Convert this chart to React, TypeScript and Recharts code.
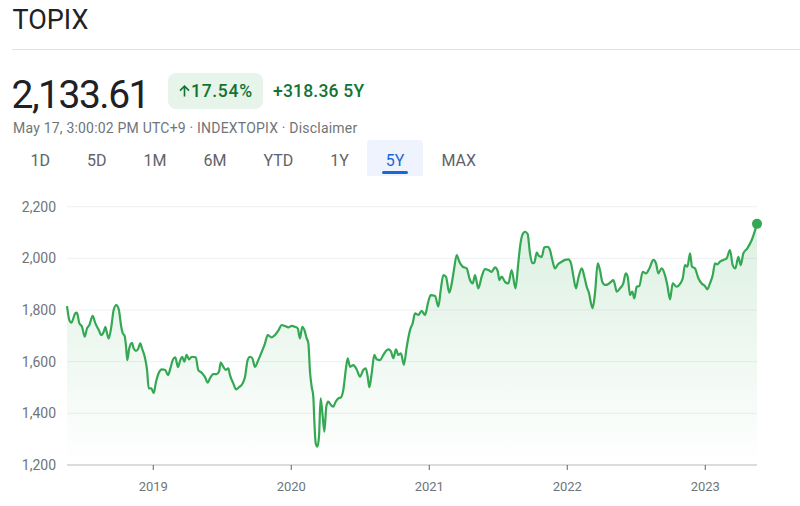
import { ComposedChart, Area, XAxis, YAxis, CartesianGrid, ReferenceDot } from 'recharts'

// time axis in fractional years
const years = [
  2018.375, 2018.392, 2018.406, 2018.435, 2018.447, 2018.464, 2018.484, 2018.503, 2018.52, 2018.537,
  2018.561, 2018.58, 2018.605, 2018.624, 2018.641, 2018.653, 2018.665, 2018.677, 2018.696, 2018.713,
  2018.732, 2018.75, 2018.768, 2018.779, 2018.793, 2018.803, 2018.812, 2018.826, 2018.846, 2018.858,
  2018.875, 2018.889, 2018.906, 2018.918, 2018.938, 2018.955, 2018.967, 2018.986, 2019.003, 2019.02,
  2019.039, 2019.063, 2019.087, 2019.107, 2019.124, 2019.141, 2019.16, 2019.179, 2019.196, 2019.21,
  2019.225, 2019.242, 2019.259, 2019.279, 2019.308, 2019.326, 2019.351, 2019.375, 2019.395, 2019.411,
  2019.435, 2019.46, 2019.476, 2019.489, 2019.508, 2019.525, 2019.544, 2019.556, 2019.58, 2019.6,
  2019.621, 2019.648, 2019.665, 2019.684, 2019.701, 2019.718, 2019.737, 2019.761, 2019.786, 2019.81,
  2019.829, 2019.858, 2019.882, 2019.906, 2019.931, 2019.955, 2019.979, 2020.003, 2020.027, 2020.047,
  2020.063, 2020.08, 2020.095, 2020.112, 2020.124, 2020.136, 2020.148, 2020.16, 2020.167, 2020.177,
  2020.189, 2020.201, 2020.213, 2020.228, 2020.24, 2020.254, 2020.268, 2020.288, 2020.305, 2020.322,
  2020.341, 2020.36, 2020.377, 2020.395, 2020.409, 2020.426, 2020.45, 2020.474, 2020.498, 2020.522,
  2020.54, 2020.554, 2020.566, 2020.583, 2020.602, 2020.619, 2020.643, 2020.667, 2020.692, 2020.708,
  2020.723, 2020.74, 2020.759, 2020.776, 2020.795, 2020.816, 2020.837, 2020.861, 2020.88, 2020.897,
  2020.921, 2020.945, 2020.969, 2020.993, 2021.011, 2021.042, 2021.066, 2021.083, 2021.102, 2021.121,
  2021.145, 2021.163, 2021.179, 2021.199, 2021.218, 2021.242, 2021.271, 2021.295, 2021.315, 2021.332,
  2021.355, 2021.38, 2021.404, 2021.428, 2021.453, 2021.476, 2021.496, 2021.508, 2021.525, 2021.549,
  2021.573, 2021.597, 2021.625, 2021.645, 2021.658, 2021.674, 2021.694, 2021.713, 2021.73, 2021.747,
  2021.761, 2021.779, 2021.795, 2021.815, 2021.834, 2021.858, 2021.875, 2021.892, 2021.911, 2021.935,
  2021.96, 2021.984, 2022.008, 2022.027, 2022.044, 2022.063, 2022.08, 2022.105, 2022.124, 2022.141,
  2022.158, 2022.172, 2022.184, 2022.201, 2022.221, 2022.237, 2022.254, 2022.274, 2022.298, 2022.317,
  2022.334, 2022.346, 2022.358, 2022.382, 2022.406, 2022.424, 2022.438, 2022.455, 2022.471, 2022.486,
  2022.503, 2022.522, 2022.547, 2022.571, 2022.595, 2022.624, 2022.643, 2022.66, 2022.684, 2022.708,
  2022.725, 2022.745, 2022.764, 2022.793, 2022.817, 2022.837, 2022.853, 2022.87, 2022.89, 2022.904,
  2022.926, 2022.95, 2022.974, 2022.998, 2023.015, 2023.034, 2023.054, 2023.071, 2023.087, 2023.107,
  2023.131, 2023.155, 2023.179, 2023.199, 2023.218, 2023.24, 2023.257, 2023.276, 2023.305, 2023.337,
  2023.375
]

const closes = [
  1815.25, 1761, 1751, 1787, 1790, 1749, 1735, 1697, 1729, 1742,
  1777, 1749, 1723, 1703, 1716, 1735, 1710, 1690, 1735, 1800,
  1819, 1803, 1735, 1710, 1699, 1658, 1606, 1652, 1673, 1652,
  1642, 1648, 1671, 1652, 1619, 1568, 1497, 1497, 1478, 1522,
  1555, 1570, 1568, 1548, 1574, 1606, 1617, 1579, 1606, 1619,
  1600, 1626, 1609, 1619, 1617, 1568, 1557, 1540, 1519, 1536,
  1552, 1552, 1561, 1596, 1580, 1568, 1574, 1548, 1516, 1493,
  1501, 1516, 1542, 1606, 1619, 1613, 1580, 1606, 1638, 1671,
  1703, 1694, 1703, 1720, 1742, 1738, 1733, 1739, 1735, 1729,
  1690, 1735, 1723, 1690, 1671, 1560, 1503, 1464, 1374, 1284,
  1271, 1310, 1458, 1387, 1329, 1426, 1445, 1432, 1426, 1445,
  1458, 1462, 1490, 1568, 1613, 1580, 1587, 1570, 1542, 1568,
  1574, 1542, 1501, 1555, 1626, 1609, 1606, 1626, 1645, 1648,
  1639, 1613, 1648, 1626, 1632, 1588, 1658, 1723, 1749, 1787,
  1781, 1797, 1781, 1832, 1858, 1854, 1813, 1877, 1935, 1929,
  1867, 1903, 1955, 2013, 1987, 1968, 1961, 1916, 1903, 1935,
  1884, 1929, 1958, 1955, 1948, 1965, 1951, 1916, 1929, 1909,
  1903, 1955, 1884, 1981, 2045, 2090, 2103, 2094, 2019, 1981,
  1983, 2022, 2009, 2006, 2043, 2045, 2032, 1994, 1961, 1978,
  1987, 1994, 1996, 1981, 1932, 1884, 1923, 1961, 1929, 1890,
  1865, 1826, 1807, 1865, 1981, 1955, 1909, 1897, 1901, 1909,
  1916, 1897, 1871, 1884, 1903, 1942, 1929, 1858, 1871, 1845,
  1890, 1893, 1948, 1942, 1961, 1994, 1981, 1942, 1961, 1935,
  1897, 1841, 1903, 1890, 1901, 1923, 1974, 1968, 2019, 1968,
  1961, 1923, 1903, 1893, 1880, 1903, 1935, 1981, 1977, 1987,
  1994, 2000, 2032, 1974, 1961, 2006, 1974, 2019, 2039, 2071,
  2133.61
]

const yearTicks = [2019, 2020, 2021, 2022, 2023]
const priceTicks = [1200, 1400, 1600, 1800, 2000, 2200]
const ranges = ['1D', '5D', '1M', '6M', 'YTD', '1Y', '5Y', 'MAX']
const selectedRange = '5Y'

const GREEN = '#34a853'
const TEXT_GREEN = '#137333'
const GREY = '#70757a'

const data = years.map((t, i) => ({ t, close: closes[i] }))

function RangeTabs() {
  return (
    <div style={{ position: 'absolute', left: 12, top: 140, display: 'flex' }}>
      {ranges.map((r) => {
        const active = r === selectedRange
        return (
          <div
            key={r}
            style={{
              position: 'relative',
              height: 36,
              boxSizing: 'border-box',
              padding: '13px 18.5px 0',
              fontSize: 16,
              lineHeight: '16px',
              color: active ? '#1967d2' : '#5f6368',
              background: active ? '#eef3fd' : 'transparent',
              borderRadius: '4px 4px 0 0'
            }}
          >
            {r}
            {active && (
              <div
                style={{
                  position: 'absolute',
                  left: '50%',
                  marginLeft: -13,
                  width: 26,
                  top: 31,
                  height: 3,
                  borderRadius: 2,
                  background: '#1967d2'
                }}
              />
            )}
          </div>
        )
      })}
    </div>
  )
}

export default function App() {
  return (
    <div
      style={{
        position: 'absolute',
        left: 0,
        top: 0,
        width: 800,
        height: 506,
        overflow: 'hidden',
        background: '#fff',
        fontFamily: 'Roboto, Arial, sans-serif'
      }}
    >
      <div style={{ position: 'absolute', left: 12.5, top: 6.6, fontSize: 27, lineHeight: '27px', color: '#202124' }}>
        TOPIX
      </div>
      <div style={{ position: 'absolute', left: 12, right: 0, top: 49, height: 1, background: '#e3e3e3' }} />

      <div
        style={{
          position: 'absolute',
          left: 11.5,
          top: 75.5,
          fontSize: 39,
          lineHeight: '39px',
          letterSpacing: -1.5,
          color: '#202124'
        }}
      >
        2,133.61
      </div>
      <div
        style={{
          position: 'absolute',
          left: 168,
          top: 73,
          width: 95,
          height: 36,
          borderRadius: 8,
          background: '#e6f4ea'
        }}
      />
      <svg style={{ position: 'absolute', left: 179, top: 85 }} width={11} height={12} viewBox="0 0 11 12">
        <path d="M5.5 11.5 V1.2 M1 5.6 L5.5 1.1 L10 5.6" fill="none" stroke={TEXT_GREEN} strokeWidth={1.6} />
      </svg>
      <div
        style={{
          position: 'absolute',
          left: 191,
          top: 73,
          color: TEXT_GREEN,
          fontSize: 17.5,
          fontWeight: 500,
          letterSpacing: 0.7,
          lineHeight: '36px'
        }}
      >
        17.54%
      </div>
      <div
        style={{
          position: 'absolute',
          left: 273,
          top: 73,
          color: TEXT_GREEN,
          fontSize: 17.5,
          fontWeight: 500,
          letterSpacing: 0.2,
          lineHeight: '36px'
        }}
      >
        +318.36 5Y
      </div>
      <div
        style={{
          position: 'absolute',
          left: 13,
          top: 120.9,
          fontSize: 14,
          lineHeight: '14px',
          letterSpacing: 0.2,
          color: GREY
        }}
      >
        May 17, 3:00:02 PM UTC+9 · INDEXTOPIX · Disclaimer
      </div>

      <RangeTabs />

      <div style={{ position: 'absolute', left: 0, top: 190 }}>
        <ComposedChart width={800} height={316} data={data} margin={{ top: 16.7, right: 43, bottom: 11, left: 7 }}>
          <defs>
            <linearGradient id="topixFill" x1="0" y1="0" x2="0" y2="1">
              <stop offset="0%" stopColor={GREEN} stopOpacity={0.28} />
              <stop offset="100%" stopColor={GREEN} stopOpacity={0} />
            </linearGradient>
          </defs>
          <CartesianGrid vertical={false} stroke="#eef0f1" />
          <XAxis
            dataKey="t"
            type="number"
            domain={['dataMin', 'dataMax']}
            ticks={yearTicks}
            tickFormatter={(v) => String(v)}
            axisLine={{ stroke: '#bdc1c6' }}
            tickLine={{ stroke: '#5f6368' }}
            tickSize={5}
            tickMargin={12}
            height={30}
            tick={{ fill: GREY, fontSize: 13, fontFamily: 'Roboto' }}
          />
          <YAxis
            domain={[1200, 2200]}
            ticks={priceTicks}
            tickFormatter={(v) => v.toLocaleString('en-US')}
            axisLine={false}
            tickLine={false}
            tickSize={0}
            tickMargin={11}
            width={60}
            tick={{ fill: GREY, fontSize: 14, fontFamily: 'Roboto' }}
          />
          <Area
            type="monotone"
            dataKey="close"
            stroke={GREEN}
            strokeWidth={2.2}
            fill="url(#topixFill)"
            dot={false}
            activeDot={false}
            isAnimationActive={false}
          />
          <ReferenceDot
            x={years[years.length - 1]}
            y={closes[closes.length - 1]}
            r={5}
            fill={GREEN}
            stroke="none"
          />
        </ComposedChart>
      </div>
    </div>
  )
}
